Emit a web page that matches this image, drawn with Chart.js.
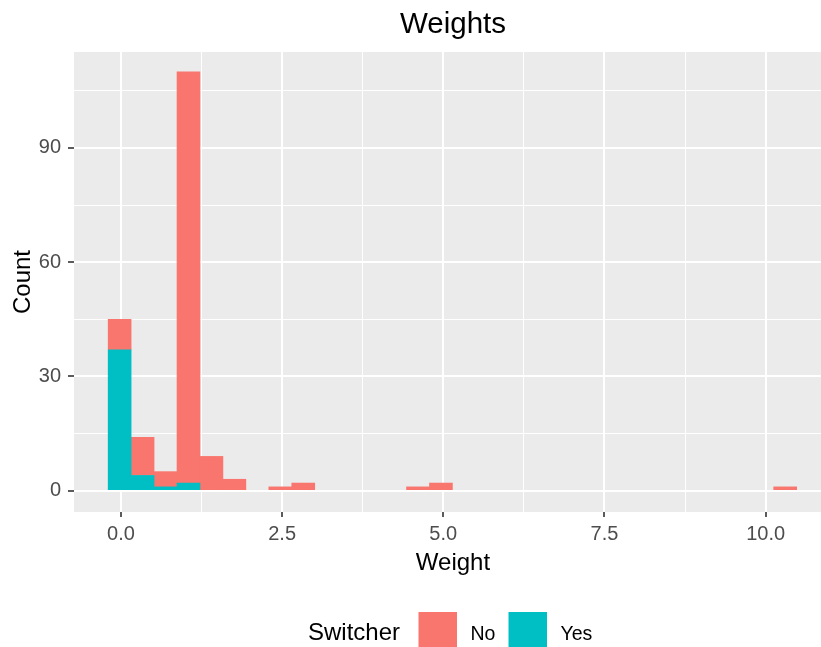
<!DOCTYPE html>
<html>
<head>
<meta charset="utf-8">
<title>Weights</title>
<script src="https://cdn.jsdelivr.net/npm/chart.js@4.4.1/dist/chart.umd.min.js"></script>
<style>
  html, body { margin: 0; padding: 0; background: #fff; overflow: hidden; }
  #wrap { width: 832px; height: 647px; }
</style>
</head>
<body>
<div id="wrap"><canvas id="chart" width="832" height="647"></canvas></div>
<script>
// histogram bins (centres) and counts per switcher group
const binCenters = [-0.02, 0.336, 0.692, 1.048, 1.404, 1.76, 2.116, 2.472, 2.828, 3.184,
                    3.54, 3.896, 4.252, 4.608, 4.964, 5.32, 5.676, 6.032, 6.388, 6.744,
                    7.1, 7.456, 7.812, 8.168, 8.524, 8.88, 9.236, 9.592, 9.948, 10.304];
const yesCounts = [37, 4, 1, 2, 0, 0, 0, 0, 0, 0,
                   0, 0, 0, 0, 0, 0, 0, 0, 0, 0,
                   0, 0, 0, 0, 0, 0, 0, 0, 0, 0];
const noCounts  = [8, 10, 4, 108, 9, 3, 0, 1, 2, 0,
                   0, 0, 0, 1, 2, 0, 0, 0, 0, 0,
                   0, 0, 0, 0, 0, 0, 0, 0, 0, 1];

const xMajorTicks = [0, 2.5, 5, 7.5, 10];
const xTickLabels = ['0.0', '2.5', '5.0', '7.5', '10.0'];
const xMinorTicks = [1.25, 3.75, 6.25, 8.75];
const yMajorTicks = [0, 30, 60, 90];
const yTickLabels = ['0', '30', '60', '90'];
const yMinorTicks = [15, 45, 75, 105];

const groups = ['No', 'Yes'];
const groupColors = { No: '#F8766D', Yes: '#00BFC4' };

const FONT = "'Liberation Sans', Arial, sans-serif";

// skip empty bins so nothing is drawn for them
const toPoints = (counts) => binCenters
    .map((x, i) => ({ x: x, y: counts[i] }))
    .filter(p => p.y > 0);

const tickSet = (major, minor) => major.concat(minor)
    .sort((a, b) => a - b)
    .map(v => ({ value: v }));

const isMajor = (list, v) => list.some(m => Math.abs(m - v) < 1e-9);

// grey panel behind the plot
const panelBg = {
    id: 'panelBg',
    beforeDraw(chart) {
        const { ctx, chartArea: a } = chart;
        ctx.save();
        ctx.fillStyle = '#EBEBEB';
        ctx.fillRect(a.left, a.top, a.right - a.left, a.bottom - a.top);
        ctx.restore();
    }
};

// ggplot-like legend: title on the left, keys in a row
const switcherLegend = {
    id: 'switcherLegend',
    afterDraw(chart) {
        const ctx = chart.ctx;
        ctx.save();
        ctx.textBaseline = 'alphabetic';
        ctx.textAlign = 'left';
        ctx.fillStyle = '#000';
        ctx.font = '24px ' + FONT;
        ctx.fillText('Switcher', 308, 640);
        let x = 418.5;
        groups.forEach(g => {
            ctx.fillStyle = groupColors[g];
            ctx.fillRect(x, 612, 38.5, 38.5);
            ctx.fillStyle = '#000';
            ctx.font = '19.5px ' + FONT;
            ctx.fillText(g, x + 52, 640);
            x += 90;
        });
        ctx.restore();
    }
};

const ctx = document.getElementById('chart').getContext('2d');
new Chart(ctx, {
    type: 'bar',
    data: {
        datasets: [
            { label: 'Yes', data: toPoints(yesCounts), backgroundColor: groupColors.Yes },
            { label: 'No', data: toPoints(noCounts), backgroundColor: groupColors.No }
        ]
    },
    options: {
        responsive: false,
        animation: false,
        devicePixelRatio: 1,
        layout: { padding: 0 },
        datasets: {
            bar: {
                categoryPercentage: 1.0,
                barPercentage: 1.0,
                borderWidth: 0
            }
        },
        scales: {
            x: {
                type: 'linear',
                stacked: true,
                offset: false,
                min: -0.728,
                max: 11.03,
                afterBuildTicks: (s) => { s.ticks = tickSet(xMajorTicks, xMinorTicks); },
                afterFit: (s) => { s.height = 135; },
                border: { display: false },
                grid: {
                    offset: false,
                    color: '#FFFFFF',
                    lineWidth: (c) => isMajor(xMajorTicks, c.tick.value) ? 2 : 1,
                    tickLength: 5,
                    tickWidth: 1.6,
                    tickColor: (c) => isMajor(xMajorTicks, c.tick.value) ? '#333333' : 'rgba(0,0,0,0)'
                },
                ticks: {
                    autoSkip: false,
                    maxRotation: 0,
                    padding: 5,
                    color: '#4D4D4D',
                    font: { family: FONT, size: 20 },
                    callback: (v) => {
                        const i = xMajorTicks.findIndex(m => Math.abs(m - v) < 1e-9);
                        return i >= 0 ? xTickLabels[i] : '';
                    }
                },
                title: {
                    display: true,
                    text: 'Weight',
                    color: '#000',
                    font: { family: FONT, size: 24 },
                    padding: { top: 0, bottom: 69 }
                }
            },
            y: {
                type: 'linear',
                stacked: true,
                min: -5.6,
                max: 115.2,
                afterBuildTicks: (s) => { s.ticks = tickSet(yMajorTicks, yMinorTicks); },
                afterFit: (s) => { s.width = 74; },
                border: { display: false },
                grid: {
                    color: '#FFFFFF',
                    lineWidth: (c) => isMajor(yMajorTicks, c.tick.value) ? 2 : 1,
                    tickLength: 6,
                    tickWidth: 1.6,
                    tickColor: (c) => isMajor(yMajorTicks, c.tick.value) ? '#333333' : 'rgba(0,0,0,0)'
                },
                ticks: {
                    autoSkip: false,
                    padding: 7,
                    color: '#4D4D4D',
                    font: { family: FONT, size: 20 },
                    callback: (v) => {
                        const i = yMajorTicks.indexOf(v);
                        return i >= 0 ? yTickLabels[i] : '';
                    }
                },
                title: {
                    display: true,
                    text: 'Count',
                    color: '#000',
                    font: { family: FONT, size: 24 },
                    padding: { top: 9, bottom: 0 }
                }
            }
        },
        plugins: {
            legend: { display: false },
            tooltip: { enabled: false },
            title: {
                display: true,
                text: 'Weights',
                fullSize: false,
                color: '#000',
                font: { family: FONT, size: 29.5, weight: 'normal' },
                padding: { top: 7, bottom: 9.6 }
            }
        }
    },
    plugins: [panelBg, switcherLegend]
});
</script>
</body>
</html>
